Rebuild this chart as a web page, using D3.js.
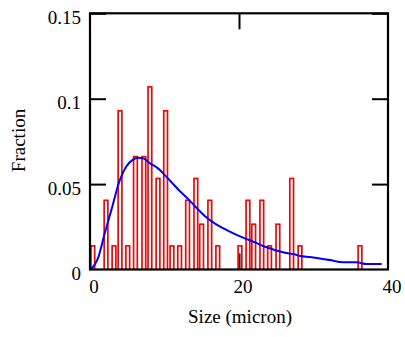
<!DOCTYPE html>
<html>
<head>
<meta charset="utf-8">
<script src="https://cdn.jsdelivr.net/npm/d3@7"></script>
<style>
  html, body { margin: 0; padding: 0; background: #fff; }
  svg { display: block; }
  text { font-family: "Liberation Serif", "Times New Roman", serif; fill: #000; }
</style>
</head>
<body>
<svg id="chart" width="405" height="337"></svg>
<script>
// ---- data ----
const binCenters = [0.38, 2.15, 3.22, 4.03, 5.07, 6.1, 7.23, 8.04, 9.13, 10.15, 11.0, 12.03, 13.1,
  14.21, 14.98, 16.08, 17.15, 20.13, 21.2, 21.97, 23.06, 24.1, 25.22, 27.07, 28.19, 36.24];
const fractions = [0.0138, 0.0405, 0.0138, 0.0929, 0.0138, 0.0661, 0.0661, 0.1069, 0.0533, 0.0929, 0.0138, 0.0138, 0.0405,
  0.0533, 0.0265, 0.0405, 0.0138, 0.0138, 0.0405, 0.0265, 0.0405, 0.0138, 0.0265, 0.0533, 0.0138, 0.0138];
const fitSize = [0.1, 1.07, 1.97, 2.86, 3.99, 4.87, 5.77, 6.44, 7.11, 8.01, 9.13, 10.3, 12.08, 13.42, 14.09,
  15.44, 16.78, 18.12, 19.46, 20.81, 22.15, 23.49, 24.83, 26.17, 27.42, 28.19, 29.53, 30.87, 32.21, 34.0,
  35.8, 37.14, 39.15];
const fitFraction = [0.0, 0.0065, 0.0211, 0.0347, 0.0522, 0.0603, 0.0643, 0.0654, 0.0652, 0.0623, 0.0592, 0.0541,
  0.0458, 0.0402, 0.0370, 0.0312, 0.0269, 0.0236, 0.0207, 0.0182, 0.0159, 0.0133, 0.0114, 0.0098, 0.0089,
  0.0079, 0.0073, 0.0065, 0.0055, 0.0042, 0.0042, 0.0032, 0.0032];
const xTicks = [0, 20, 40];
const yTicks = [0, 0.05, 0.1, 0.15];
const xLabel = "Size (micron)";
const yLabel = "Fraction";

// ---- layout ----
const L = 90, R = 388, T = 13.3, B = 269.5;
const halfBin = 0.25;
const svg = d3.select("#chart");
const x = d3.scaleLinear().domain([0, 40]).range([L, R]);
const y = d3.scaleLinear().domain([0, 0.15]).range([B, T]);

svg.append("defs").append("clipPath").attr("id", "clip")
  .append("rect").attr("x", L).attr("y", T).attr("width", R - L).attr("height", B - T);

// ticks (inward) via axes
const tickLen = 16;
function styleAxis(g) {
  g.select(".domain").remove();
  g.selectAll(".tick line").attr("stroke", "#000").attr("stroke-width", 2);
  g.selectAll(".tick text").remove();
}
svg.append("g").attr("transform", `translate(${L},0)`)
  .call(d3.axisLeft(y).tickValues(yTicks.slice(1)).tickSizeInner(-tickLen).tickSizeOuter(0)).call(styleAxis);
svg.append("g").attr("transform", `translate(${R},0)`)
  .call(d3.axisRight(y).tickValues(yTicks.slice(1)).tickSizeInner(-tickLen).tickSizeOuter(0)).call(styleAxis);
svg.append("g").attr("transform", `translate(0,${B})`)
  .call(d3.axisBottom(x).tickValues([20]).tickSizeInner(-tickLen).tickSizeOuter(0)).call(styleAxis);
svg.append("g").attr("transform", `translate(0,${T})`)
  .call(d3.axisTop(x).tickValues([20]).tickSizeInner(-tickLen).tickSizeOuter(0)).call(styleAxis);

// bars
const bars = binCenters.map((c, i) => ({ c, v: fractions[i] }));
svg.append("g").attr("clip-path", "url(#clip)")
  .selectAll("rect").data(bars).join("rect")
  .attr("x", d => x(d.c - halfBin))
  .attr("width", d => x(d.c + halfBin) - x(d.c - halfBin))
  .attr("y", d => y(d.v))
  .attr("height", d => y(0) - y(d.v))
  .attr("fill", "none")
  .attr("stroke", "#ff0000")
  .attr("stroke-width", 1.7);

// fit curve
const pts = fitSize.map((s, i) => [s, fitFraction[i]]);
svg.append("path").datum(pts)
  .attr("d", d3.line().x(d => x(d[0])).y(d => y(d[1])).curve(d3.curveMonotoneX))
  .attr("fill", "none").attr("stroke", "#0000ff").attr("stroke-width", 2);

// frame
svg.append("rect").attr("x", L).attr("y", T).attr("width", R - L).attr("height", B - T)
  .attr("fill", "none").attr("stroke", "#000").attr("stroke-width", 2.2);

// labels
svg.append("g").selectAll("text").data(yTicks).join("text")
  .attr("x", L - 9).attr("y", d => y(d) + 10.5)
  .attr("text-anchor", "end").attr("font-size", 19)
  .text(d => d === 0 ? "0" : String(d));
svg.append("g").selectAll("text").data(xTicks).join("text")
  .attr("x", d => x(d) + 4).attr("y", 293)
  .attr("text-anchor", "middle").attr("font-size", 19)
  .text(d => String(d));
svg.append("text").attr("x", 240).attr("y", 322.5)
  .attr("text-anchor", "middle").attr("font-size", 19).text(xLabel);
svg.append("text").attr("transform", "translate(25,140.5) rotate(-90)")
  .attr("text-anchor", "middle").attr("font-size", 19).text(yLabel);
</script>
</body>
</html>
